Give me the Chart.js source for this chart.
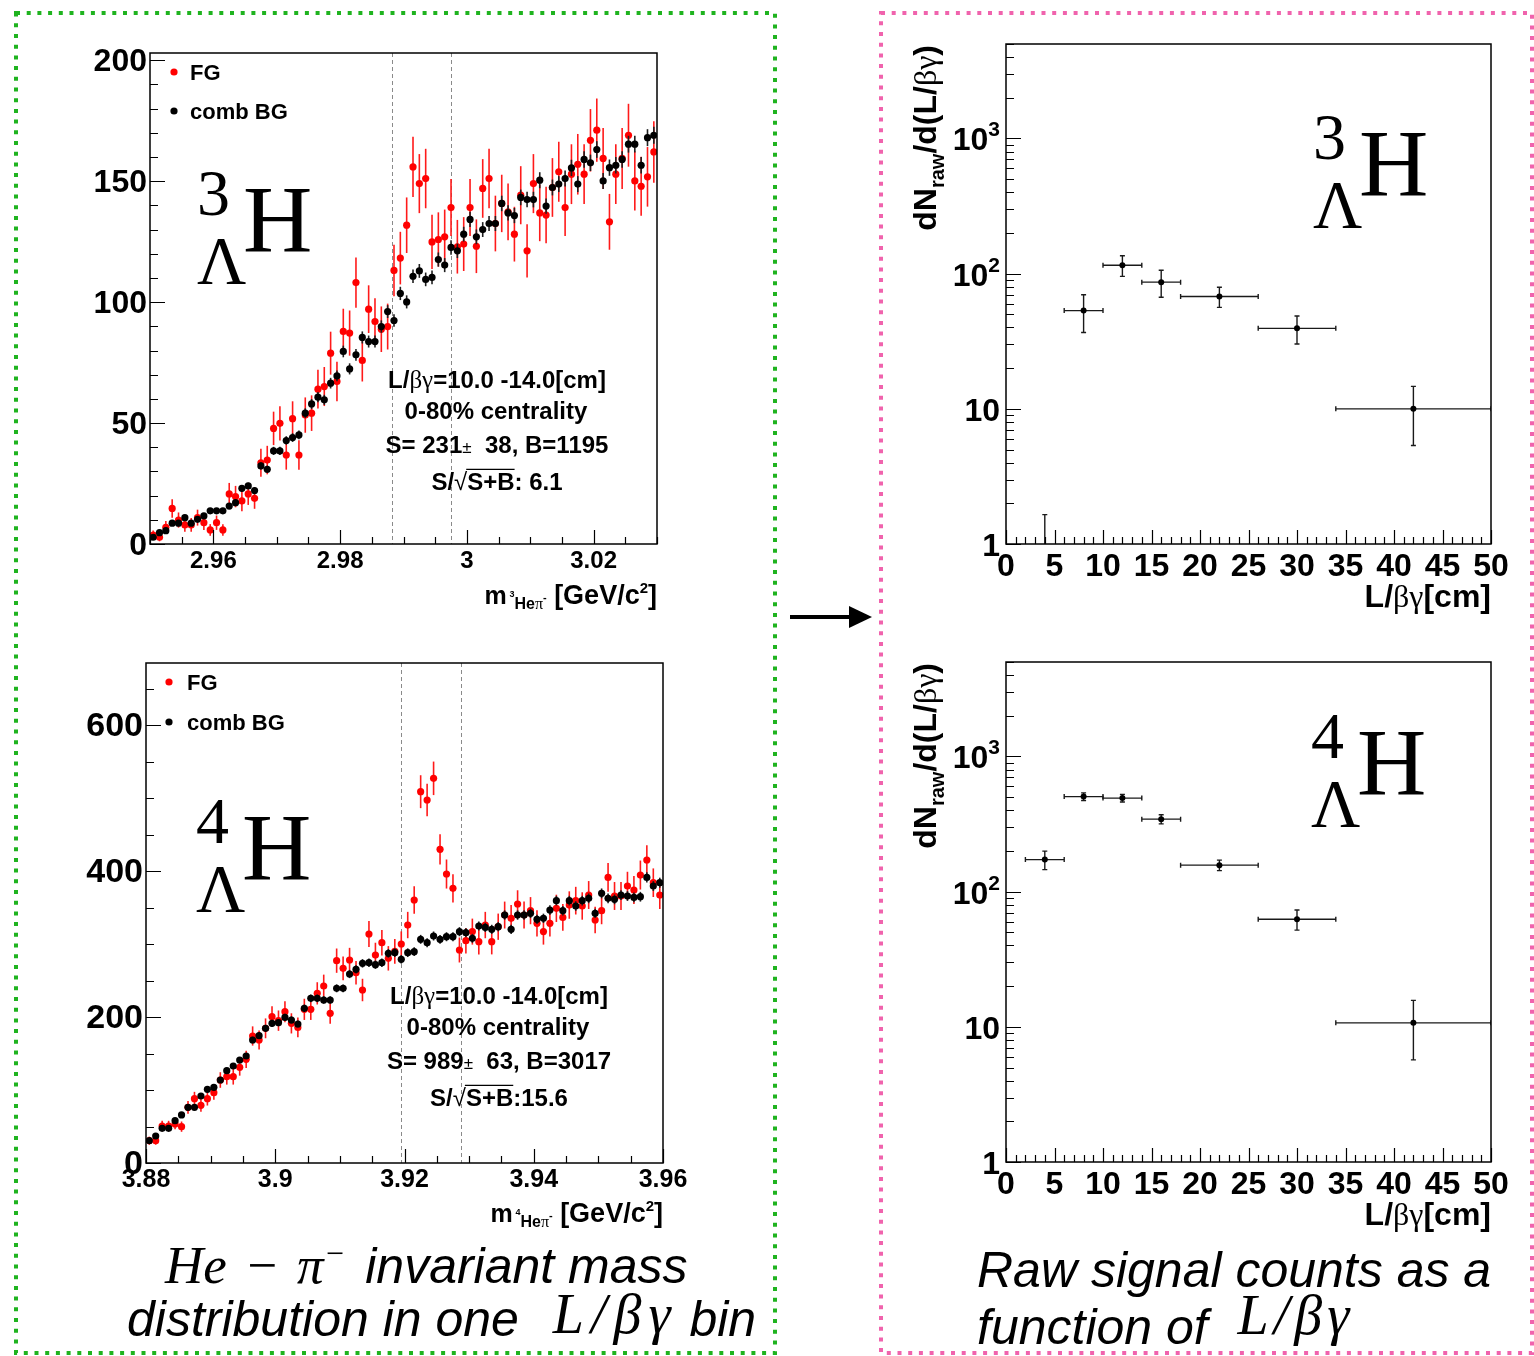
<!DOCTYPE html>
<html>
<head>
<meta charset="utf-8">
<script src="https://cdn.jsdelivr.net/npm/chart.js@4.4.1/dist/chart.umd.min.js"></script>
<style>
body { margin: 0; background: #fff; }
#page { position: relative; width: 1534px; height: 1356px; overflow: hidden; background: #fff; }
.box { position: absolute; }
.cap { position: absolute; font-family: "Liberation Sans", Arial, sans-serif; font-style: italic; font-size: 50px; line-height: 50px; white-space: nowrap; color: #000; }
.math { font-family: "Liberation Serif", "Times New Roman", serif; font-style: italic; }
</style>
</head>
<body>
<div id="page">
  <svg width="1534" height="1356" style="position:absolute;left:0;top:0">
    <rect x="16" y="13" width="759" height="1340" fill="none" stroke="#1fb31f" stroke-width="4" stroke-dasharray="4 6.7"/>
    <rect x="881" y="13" width="651" height="1340" fill="none" stroke="#f063ad" stroke-width="4" stroke-dasharray="4 6.7"/>
    <line x1="790" y1="617" x2="852" y2="617" stroke="#000" stroke-width="4"/>
    <polygon points="849,606 872,617 849,628" fill="#000"/>
  </svg>

  <div class="box" style="left:60px;top:40px;width:620px;height:580px"><canvas id="chartH3Mass"></canvas></div>
  <div class="box" style="left:60px;top:648px;width:650px;height:590px"><canvas id="chartH4Mass"></canvas></div>
  <div class="box" style="left:900px;top:30px;width:620px;height:590px"><canvas id="chartH3Raw"></canvas></div>
  <div class="box" style="left:900px;top:648px;width:620px;height:590px"><canvas id="chartH4Raw"></canvas></div>

  <div class="cap" style="left:165px;top:1240px"><span class="math" style="font-size:53px;word-spacing:4px">He − π<sup style="font-size:32px;line-height:0">−</sup></span><span style="margin-left:20px">invariant mass</span></div>
  <div class="cap" style="left:127px;top:1292px">distribution in one <span class="math" style="font-size:56px;letter-spacing:7px;margin-left:20px;margin-right:-2px;position:relative;top:-3px">L/βγ</span> bin</div>
  <div class="cap" style="left:977px;top:1245px">Raw signal counts as a</div>
  <div class="cap" style="left:977px;top:1300px">function of <span class="math" style="font-size:56px;letter-spacing:5px;margin-left:16px;position:relative;top:-10px">L/βγ</span></div>
</div>

<script>
// 3LH: He3-pi invariant mass, 80 bins of 1 MeV from 2.95
const h3MassLo = 2.95, h3BinWidth = 0.001;
const h3FG = [
  3.7, 2.8, 6.9, 14.7, 9.9, 7.9, 7.9, 10.9, 8.8, 5.8,
  8.8, 5.8, 20.7, 19.6, 17.8, 20.7, 18.9, 33.6, 34.7, 47.8,
  49.9, 36.8, 51.8, 36.8, 53.3, 54.1, 64.0, 65.1, 78.9, 67.2,
  87.9, 87.2, 108.1, 75.9, 97.1, 92.0, 88.8, 89.9, 113.1, 118.2,
  131.8, 155.9, 149.0, 151.1, 124.9, 125.9, 127.0, 139.1, 122.9, 124.0,
  139.1, 123.1, 147.0, 151.1, 132.5, 140.8, 137.3, 128.1, 144.2, 121.2,
  149.0, 136.9, 136.0, 147.4, 153.9, 139.1, 152.9, 157.0, 152.9, 166.9,
  171.1, 159.4, 133.2, 152.9, 159.4, 169.0, 150.1, 147.9, 151.8, 162.1
];
const h3BG = [
  2.8, 4.7, 5.5, 8.6, 8.6, 10.9, 8.6, 10.2, 11.6, 13.7,
  13.7, 13.7, 15.7, 17.1, 23.0, 24.0, 22.1, 32.3, 30.9, 38.5,
  38.5, 42.8, 44.0, 45.1, 54.1, 57.9, 60.7, 59.6, 66.5, 69.5,
  79.6, 72.4, 78.2, 85.4, 83.7, 83.7, 89.9, 96.1, 92.4, 103.6,
  100.1, 110.7, 112.9, 109.4, 110.2, 117.6, 115.3, 122.6, 121.2, 128.1,
  134.2, 127.0, 130.0, 132.5, 132.5, 140.8, 136.9, 135.8, 143.3, 142.4,
  142.4, 150.4, 139.7, 147.4, 148.8, 151.1, 155.5, 148.8, 159.0, 157.6,
  163.1, 150.1, 155.6, 156.6, 159.0, 165.3, 165.3, 156.6, 168.0, 169.0
];
const h3Window = [2.9882, 2.9975];
const h3MassTicks = [2.96, 2.98, 3.00, 3.02];
const h3CountTicks = [0, 50, 100, 150, 200];

// 4LH: He4-pi invariant mass, 80 bins of 1 MeV from 3.88
const h4MassLo = 3.88, h4BinWidth = 0.001;
const h4FG = [
  30.6, 30.6, 50.7, 50.7, 53.4, 49.8, 76.3, 88.1, 79.0, 88.1,
  96.3, 113.7, 118.3, 118.3, 131.1, 142.0, 174.0, 168.5, 184.5, 200.5,
  195.0, 207.3, 191.3, 185.8, 210.5, 210.5, 232.4, 242.5, 205.0, 277.2,
  266.7, 278.1, 260.7, 237.0, 313.7, 284.9, 301.8, 280.4, 290.0, 300.0,
  326.0, 360.3, 508.7, 497.3, 527.0, 429.7, 395.9, 376.3, 291.8, 304.6,
  317.0, 303.2, 326.0, 303.2, 323.7, 339.7, 335.2, 354.8, 339.7, 345.7,
  328.3, 317.0, 328.3, 348.9, 336.5, 353.4, 359.4, 352.1, 367.1, 332.9,
  345.7, 391.3, 365.8, 365.8, 379.5, 374.0, 394.5, 415.1, 384.0, 367.1
];
const h4BG = [
  30.6, 37.0, 47.5, 47.5, 58.0, 65.8, 76.3, 76.3, 91.8, 100.9,
  103.7, 113.7, 126.5, 132.9, 141.1, 146.6, 168.5, 174.4, 184.5, 191.3,
  192.2, 199.5, 195.9, 190.4, 211.9, 225.6, 225.6, 223.3, 223.3, 239.3,
  239.3, 258.9, 265.3, 273.5, 274.4, 271.7, 274.4, 287.2, 288.1, 279.0,
  288.1, 289.5, 306.4, 301.8, 311.0, 306.4, 310.0, 310.0, 316.9, 315.5,
  307.8, 324.7, 322.8, 320.1, 323.7, 339.7, 320.1, 339.7, 339.7, 342.0,
  333.8, 335.2, 346.6, 359.4, 345.7, 359.4, 352.1, 359.4, 362.6, 342.0,
  369.4, 362.6, 361.2, 367.1, 365.8, 363.9, 364.8, 391.3, 379.5, 384.0
];
const h4Window = [3.9194, 3.9287];
const h4MassTicks = [3.88, 3.90, 3.92, 3.94, 3.96];
const h4CountTicks = [0, 200, 400, 600];

// raw signal vs L/beta-gamma (bin centres and half widths, cm)
const ldCentres = [4, 8, 12, 16, 22, 30, 42];
const ldHalfWidth = [2, 2, 2, 2, 4, 4, 8];
const h3Raw = [0, 53.3, 115.5, 86.5, 67.8, 39.4, 10.0];
const h3RawErr = [1.65, 16.6, 20.0, 19.6, 11.5, 9.2, 4.65];
const h4Raw = [172.6, 505, 492, 344, 157, 62.5, 10.7];
const h4RawErr = [27, 33, 32, 27, 14, 10.6, 5.0];
const ldTicks = [0, 5, 10, 15, 20, 25, 30, 35, 40, 45, 50];
const logTicks = [1, 10, 100, 1000];

const h3BGErrScale = 0.27, h4BGErrScale = 0.35;

const SANS = '"Liberation Sans", Arial, Helvetica, sans-serif';
const SERIF = '"Liberation Serif", "Times New Roman", serif';
const B = s => `bold ${s}px ${SANS}`;
const N = s => `${s}px ${SANS}`;
const S = s => `${s}px ${SERIF}`;

function binCentres(lo, w, n) {
  return Array.from({ length: n }, (_, i) => +(lo + (i + 0.5) * w).toFixed(5));
}

function steps(lo, hi, step) {
  const out = [];
  for (let v = lo; v <= hi + step * 1e-6; v += step) out.push(+v.toFixed(6));
  return out;
}

function logMinor(max) {
  const out = [];
  [1, 10, 100, 1000].forEach(d => { for (let k = 2; k <= 9; k++) if (k * d <= max) out.push(k * d); });
  return out;
}

// draw a list of [text, font, dy] pieces on one baseline
function textRuns(ctx, parts, x, y, align) {
  let w = 0;
  parts.forEach(p => { ctx.font = p[1]; w += ctx.measureText(p[0]).width; });
  let cx = align === 'right' ? x - w : align === 'center' ? x - w / 2 : x;
  ctx.textAlign = 'left';
  ctx.textBaseline = 'alphabetic';
  parts.forEach(p => {
    ctx.font = p[1];
    ctx.fillText(p[0], cx, y + (p[2] || 0));
    cx += ctx.measureText(p[0]).width;
  });
  return w;
}

// "S/ sqrt(S+B) value" line with an overline over the radicand
function sqrtLine(ctx, pre, rad, post, cx, y, size) {
  ctx.font = B(size); const w1 = ctx.measureText(pre).width;
  ctx.font = N(size); const w2 = ctx.measureText('√').width;
  ctx.font = B(size); const w3 = ctx.measureText(rad).width, w4 = ctx.measureText(post).width;
  let x = cx - (w1 + w2 + w3 + w4) / 2;
  textRuns(ctx, [[pre, B(size)], ['√', N(size)], [rad, B(size)], [post, B(size)]], x, y, 'left');
  ctx.lineWidth = 1.3;
  ctx.beginPath();
  ctx.moveTo(x + w1 + w2 - 1, y - size * 0.86);
  ctx.lineTo(x + w1 + w2 + w3, y - size * 0.86);
  ctx.stroke();
}

function hyperNucleus(ctx, A, x, y) {
  ctx.fillStyle = '#000';
  ctx.textAlign = 'left';
  ctx.textBaseline = 'alphabetic';
  ctx.font = S(66); ctx.fillText(A, x, y - 37);
  ctx.font = S(68); ctx.fillText('Λ', x, y + 31);
  ctx.font = S(96); ctx.fillText('H', x + 46, y);
}

function tickMarks(ctx, chart, t) {
  const a = chart.chartArea, sx = chart.scales.x, sy = chart.scales.y;
  ctx.strokeStyle = '#000';
  ctx.lineWidth = 1.2;
  ctx.beginPath();
  t.xMinor.forEach(v => { const p = Math.round(sx.getPixelForValue(v)) + 0.5; ctx.moveTo(p, a.bottom); ctx.lineTo(p, a.bottom - 7); });
  t.xMajor.forEach(v => { const p = Math.round(sx.getPixelForValue(v)) + 0.5; ctx.moveTo(p, a.bottom); ctx.lineTo(p, a.bottom - 14); });
  t.yMinor.forEach(v => { const p = Math.round(sy.getPixelForValue(v)) + 0.5; ctx.moveTo(a.left, p); ctx.lineTo(a.left + 8, p); });
  t.yMajor.forEach(v => { const p = Math.round(sy.getPixelForValue(v)) + 0.5; ctx.moveTo(a.left, p); ctx.lineTo(a.left + 15, p); });
  ctx.stroke();
  ctx.lineWidth = 1.5;
  ctx.strokeRect(a.left, a.top, a.right - a.left, a.bottom - a.top);
}

const errorBars = {
  id: 'errorBars',
  beforeDatasetDraw(chart, args) {
    const ds = chart.data.datasets[args.index];
    if (!ds.yErr) return;
    const { ctx, chartArea: a, scales: { x, y } } = chart;
    const isLog = y.type === 'logarithmic';
    ctx.save();
    ctx.beginPath();
    ctx.rect(a.left, a.top, a.right - a.left, a.bottom - a.top);
    ctx.clip();
    ctx.strokeStyle = ds.errColor;
    ctx.lineWidth = ds.errWidth;
    ds.data.forEach((p, i) => {
      const px = x.getPixelForValue(p.x);
      const e = ds.yErr[i];
      const top = y.getPixelForValue(p.y + e);
      const bot = (isLog && p.y - e <= 0) ? a.bottom : y.getPixelForValue(p.y - e);
      ctx.beginPath();
      ctx.moveTo(px, top); ctx.lineTo(px, bot);
      if (ds.caps) { ctx.moveTo(px - 2.5, top); ctx.lineTo(px + 2.5, top); if (bot < a.bottom) { ctx.moveTo(px - 2.5, bot); ctx.lineTo(px + 2.5, bot); } }
      if (ds.xErr && p.y > 0) {
        const py = y.getPixelForValue(p.y);
        const x0 = x.getPixelForValue(p.x - ds.xErr[i]), x1 = x.getPixelForValue(p.x + ds.xErr[i]);
        ctx.moveTo(x0, py); ctx.lineTo(x1, py);
        ctx.moveTo(x0, py - 2.5); ctx.lineTo(x0, py + 2.5);
        ctx.moveTo(x1, py - 2.5); ctx.lineTo(x1, py + 2.5);
      }
      ctx.stroke();
    });
    ctx.restore();
  }
};

function massDatasets(mass, fg, bg, bgScale) {
  return [
    {
      label: 'comb BG', order: 0,
      data: mass.map((x, i) => ({ x, y: bg[i] })),
      yErr: bg.map(v => bgScale * Math.sqrt(v)),
      errColor: '#202020', errWidth: 1.6,
      pointRadius: 3.6, pointBackgroundColor: '#000', pointBorderWidth: 0
    },
    {
      label: 'FG', order: 1,
      data: mass.map((x, i) => ({ x, y: fg[i] })),
      yErr: fg.map(v => Math.sqrt(v)),
      errColor: '#ff1a1a', errWidth: 1.6,
      pointRadius: 3.6, pointBackgroundColor: '#ff0000', pointBorderWidth: 0
    }
  ];
}

function massChart(id, o) {
  const mass = binCentres(o.lo, o.binW, o.fg.length);
  const decor = {
    id: 'massDecor',
    beforeDatasetsDraw(chart) {
      const { ctx, chartArea: a, scales: { x } } = chart;
      ctx.save();
      ctx.strokeStyle = '#8a8a8a';
      ctx.lineWidth = 1;
      ctx.setLineDash([4, 3]);
      o.window.forEach(v => {
        const p = Math.round(x.getPixelForValue(v)) + 0.5;
        ctx.beginPath(); ctx.moveTo(p, a.top); ctx.lineTo(p, a.bottom); ctx.stroke();
      });
      ctx.restore();
    },
    afterDraw(chart) {
      const { ctx, chartArea: a, scales: { x, y } } = chart;
      ctx.save();
      tickMarks(ctx, chart, {
        xMajor: o.xTicks, xMinor: steps(o.lo, o.lo + 0.08, 0.005),
        yMajor: o.yTicks, yMinor: steps(0, y.max, o.yMinor)
      });
      ctx.fillStyle = '#000';
      ctx.font = B(o.yFont); ctx.textAlign = 'right'; ctx.textBaseline = 'middle';
      o.yTicks.forEach(v => ctx.fillText(String(v), a.left - 3, y.getPixelForValue(v) + 2));
      ctx.font = B(o.xFont); ctx.textAlign = 'center'; ctx.textBaseline = 'top';
      o.xTicks.forEach(v => ctx.fillText(String(+v.toFixed(2)), x.getPixelForValue(v), a.bottom + 5));

      // page coordinates from here on
      ctx.translate(-o.ox, -o.oy);
      textRuns(ctx, [['m', B(25)], [' ', B(10)], [o.A, B(9), -7], ['He', B(16), 5], ['π', S(16), 5], ['-', B(11), -3],
        [' [GeV/c', B(27)], ['2', B(15), -11], [']', B(27)]], a.right + o.ox, o.titleY, 'right');

      // legend
      ctx.fillStyle = '#ff0000';
      ctx.beginPath(); ctx.arc(o.leg[0], o.leg[1], 3.6, 0, Math.PI * 2); ctx.fill();
      ctx.fillStyle = '#000';
      ctx.beginPath(); ctx.arc(o.leg[0], o.leg[1] + o.leg[3], 3.6, 0, Math.PI * 2); ctx.fill();
      textRuns(ctx, [['FG', B(22)]], o.leg[2], o.leg[1] + 8, 'left');
      textRuns(ctx, [['comb BG', B(22)]], o.leg[2], o.leg[1] + o.leg[3] + 8, 'left');

      hyperNucleus(ctx, o.A, o.nuc[0], o.nuc[1]);

      const cx = o.info[0], y0 = o.info[1];
      textRuns(ctx, [['L/', B(24)], ['βγ', S(25)], ['=10.0 -14.0[cm]', B(24)]], cx, y0, 'center');
      textRuns(ctx, [['0-80% centrality', B(24)]], cx - 1, y0 + 31, 'center');
      textRuns(ctx, [[o.sLine[0], B(24)], ['±', N(17)], [o.sLine[1], B(24)]], cx, y0 + 65, 'center');
      sqrtLine(ctx, 'S/', 'S+B', o.signif, cx, y0 + 102, 24);
      ctx.restore();
    }
  };
  return new Chart(document.getElementById(id), {
    type: 'scatter',
    data: { datasets: massDatasets(mass, o.fg, o.bg, o.bgScale) },
    options: {
      responsive: true, maintainAspectRatio: false, animation: false, events: [],
      layout: { padding: o.pad },
      scales: {
        x: { type: 'linear', display: false, min: o.lo, max: +(o.lo + 0.08).toFixed(3) },
        y: { type: 'linear', display: false, min: 0, max: o.yMax }
      },
      plugins: { legend: { display: false }, tooltip: { enabled: false } }
    },
    plugins: [errorBars, decor]
  });
}

function rawChart(id, o) {
  const decor = {
    id: 'rawDecor',
    afterDraw(chart) {
      const { ctx, chartArea: a, scales: { x, y } } = chart;
      ctx.save();
      tickMarks(ctx, chart, { xMajor: ldTicks, xMinor: steps(0, 50, 1), yMajor: logTicks, yMinor: logMinor(y.max) });
      ctx.fillStyle = '#000';
      ctx.font = B(32); ctx.textAlign = 'center'; ctx.textBaseline = 'top';
      ldTicks.forEach(v => ctx.fillText(String(v), x.getPixelForValue(v), a.bottom + 7));
      logTicks.forEach(v => {
        const py = y.getPixelForValue(v) + 12;
        const n = Math.round(Math.log10(v));
        if (n === 0) textRuns(ctx, [['1', B(32)]], a.left - 6, py, 'right');
        else if (n === 1) textRuns(ctx, [['10', B(32)]], a.left - 6, py, 'right');
        else textRuns(ctx, [['10', B(32)], [String(n), B(21), -14]], a.left - 6, py, 'right');
      });

      ctx.translate(-o.ox, -o.oy);
      textRuns(ctx, [['L/', B(32)], ['βγ', S(32)], ['[cm]', B(32)]], a.right + o.ox, a.bottom + o.oy + 63, 'right');
      ctx.save();
      ctx.translate(936, a.top + o.oy + 1);
      ctx.rotate(-Math.PI / 2);
      textRuns(ctx, [['dN', B(32)], ['raw', B(20), 8], ['/d(L/', B(32)], ['βγ', S(32)], [')', B(32)]], 0, 0, 'right');
      ctx.restore();
      hyperNucleus(ctx, o.A, o.nuc[0], o.nuc[1]);
      ctx.restore();
    }
  };
  return new Chart(document.getElementById(id), {
    type: 'scatter',
    data: {
      datasets: [{
        label: 'raw', data: ldCentres.map((x, i) => ({ x, y: o.vals[i] })),
        yErr: o.errs, xErr: ldHalfWidth, caps: true,
        errColor: '#1a1a1a', errWidth: 1.4,
        pointRadius: ctx => (ctx.raw && ctx.raw.y > 0 ? 3 : 0),
        pointBackgroundColor: '#000', pointBorderWidth: 0
      }]
    },
    options: {
      responsive: true, maintainAspectRatio: false, animation: false, events: [],
      layout: { padding: o.pad },
      scales: {
        x: { type: 'linear', display: false, min: 0, max: 50 },
        y: { type: 'logarithmic', display: false, min: 1, max: 5000 }
      },
      plugins: { legend: { display: false }, tooltip: { enabled: false } }
    },
    plugins: [errorBars, decor]
  });
}

massChart('chartH3Mass', {
  ox: 60, oy: 40, pad: { left: 90, top: 13, right: 23, bottom: 76 },
  lo: h3MassLo, binW: h3BinWidth, fg: h3FG, bg: h3BG, bgScale: h3BGErrScale,
  window: h3Window, xTicks: h3MassTicks, yTicks: h3CountTicks, yMinor: 10, yMax: 203,
  yFont: 32, xFont: 24, A: '3', titleY: 604,
  leg: [174, 72, 190, 39], nuc: [197, 252], info: [497, 388],
  sLine: ['S= 231', '  38, B=1195'], signif: ': 6.1'
});

massChart('chartH4Mass', {
  ox: 60, oy: 648, pad: { left: 86, top: 15, right: 47, bottom: 75 },
  lo: h4MassLo, binW: h4BinWidth, fg: h4FG, bg: h4BG, bgScale: h4BGErrScale,
  window: h4Window, xTicks: h4MassTicks, yTicks: h4CountTicks, yMinor: 50, yMax: 685,
  yFont: 34, xFont: 25, A: '4', titleY: 1222,
  leg: [169, 682, 187, 40], nuc: [196, 880], info: [499, 1004],
  sLine: ['S= 989', '  63, B=3017'], signif: ':15.6'
});

rawChart('chartH3Raw', {
  ox: 900, oy: 30, pad: { left: 106, top: 14, right: 29, bottom: 76 },
  vals: h3Raw, errs: h3RawErr, A: '3', nuc: [1313, 196]
});

rawChart('chartH4Raw', {
  ox: 900, oy: 648, pad: { left: 106, top: 14, right: 29, bottom: 76 },
  vals: h4Raw, errs: h4RawErr, A: '4', nuc: [1311, 795]
});
</script>
</body>
</html>
